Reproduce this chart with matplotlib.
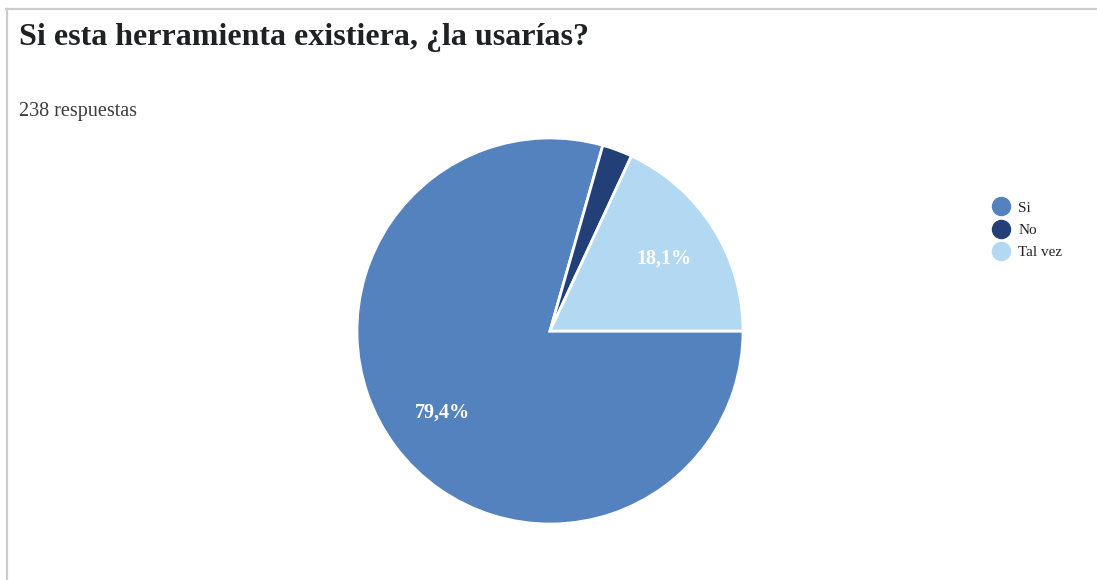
import matplotlib.pyplot as plt
from matplotlib.lines import Line2D

titulo = "Si esta herramienta existiera, ¿la usarías?"
subtitulo = "238 respuestas"
categorias = ["Si", "No", "Tal vez"]
respuestas = [189, 6, 43]
colores = ["#5482BE", "#233F78", "#B3D9F2"]

plt.rcParams['font.family'] = ['Liberation Serif', 'DejaVu Serif']

fig = plt.figure(figsize=(10.97, 5.8), dpi=100)

# marco gris de la tarjeta (arriba e izquierda)
fig.add_artist(Line2D([6/1097, 1], [1 - 9/580, 1 - 9/580], color="#cccccc", lw=1.6))
fig.add_artist(Line2D([7/1097, 7/1097], [0, 1 - 9/580], color="#cccccc", lw=1.6))

fig.text(19/1097, 1 - 37/580, titulo, fontsize=23, fontweight='bold', color="#202124", va='center')
fig.text(19/1097, 1 - 112/580, subtitulo, fontsize=14.5, color="#3c3c3c", va='center')

r = 194
cx, cy = 550, 331
ax = fig.add_axes([(cx - r)/1097, (580 - cy - r)/580, 2*r/1097, 2*r/580])

def etiqueta(p):
    return ("%.1f%%" % p).replace(".", ",") if p > 5 else ""

wedges, textos, pcts = ax.pie(respuestas, colors=colores, startangle=0, counterclock=False,
                              autopct=etiqueta, pctdistance=0.70,
                              wedgeprops=dict(edgecolor="white", linewidth=2))
for t in pcts:
    t.set_color("white")
    t.set_fontweight("bold")
    t.set_fontsize(14.5)
ax.set_xlim(-1.005, 1.005)
ax.set_ylim(-1.005, 1.005)
ax.set_aspect('equal')
ax.axis('off')

handles = [Line2D([], [], marker='o', linestyle='', markersize=13, markerfacecolor=c,
                  markeredgecolor=c) for c in colores]
fig.legend(handles, categorias, loc='upper left', bbox_to_anchor=(980/1097, 1 - 195/580),
           frameon=False, fontsize=11, handletextpad=0.1, labelspacing=0.55, borderaxespad=0,
           labelcolor="#222222")

fig.savefig("out.png", dpi=100)
